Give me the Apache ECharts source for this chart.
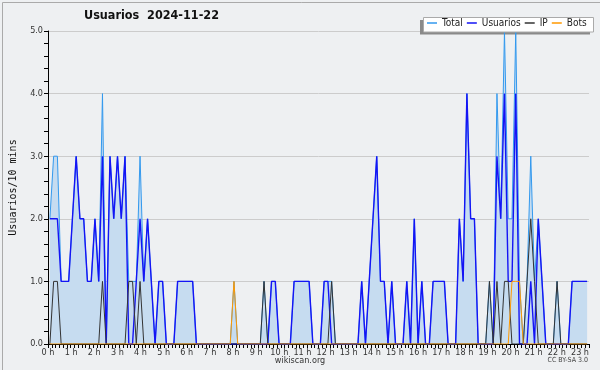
<!DOCTYPE html>
<html>
<head>
<meta charset="utf-8">
<script src="https://cdn.jsdelivr.net/npm/echarts@6/dist/echarts.min.js"></script>
<style>
html,body{margin:0;padding:0;background:#eef0f2;}
#chart{width:600px;height:370px;}
</style>
</head>
<body>
<div id="chart"></div>
<script>
// hour tick labels
var hourLabels = ['0 h','1 h','2 h','3 h','4 h','5 h','6 h','7 h','8 h','9 h','10 h','11 h',
  '12 h','13 h','14 h','15 h','16 h','17 h','18 h','19 h','20 h','21 h','22 h','23 h'];
var yTickLabels = ['0.0','1.0','2.0','3.0','4.0','5.0'];
var seriesNames = ['Total','Usuarios','IP','Bots'];

// values per 10 minutes (6 per hour)
var total = [
  2,3,3,1,1,1,  2,3,2,2,1,1,  2,1,4,0,3,2,  3,2,3,1,1,1,
  3,1,2,1,0,1,  1,0,0,0,1,1,  1,1,1,0,0,0,  0,0,0,0,0,0,
  0,1,0,0,0,0,  0,0,0,1,0,1,  1,0,0,0,0,1,  1,1,1,1,0,0,
  0,1,1,1,0,0,  0,0,0,0,0,1,  0,1,2,3,1,1,  0,1,0,0,0,1,
  0,2,0,1,0,0,  1,1,1,1,0,0,  0,2,1,4,2,2,  0,0,0,1,0,4,
  2,5,2,2,5,1,  0,1,3,1,2,1,  0,0,0,1,0,0,  0,1,1,1,1,1
];
var usuarios = [
  2,2,2,1,1,1,  2,3,2,2,1,1,  2,1,3,0,3,2,  3,2,3,0,0,1,
  2,1,2,1,0,1,  1,0,0,0,1,1,  1,1,1,0,0,0,  0,0,0,0,0,0,
  0,0,0,0,0,0,  0,0,0,0,0,1,  1,0,0,0,0,1,  1,1,1,1,0,0,
  0,1,1,0,0,0,  0,0,0,0,0,1,  0,1,2,3,1,1,  0,1,0,0,0,1,
  0,2,0,1,0,0,  1,1,1,1,0,0,  0,2,1,4,2,2,  0,0,0,0,0,3,
  2,4,1,1,4,0,  0,0,1,0,2,1,  0,0,0,0,0,0,  0,1,1,1,1,1
];
var ip = [
  0,1,1,0,0,0,  0,0,0,0,0,0,  0,0,1,0,0,0,  0,0,0,1,1,0,
  1,0,0,0,0,0,  0,0,0,0,0,0,  0,0,0,0,0,0,  0,0,0,0,0,0,
  0,0,0,0,0,0,  0,0,0,1,0,0,  0,0,0,0,0,0,  0,0,0,0,0,0,
  0,0,0,1,0,0,  0,0,0,0,0,0,  0,0,0,0,0,0,  0,0,0,0,0,0,
  0,0,0,0,0,0,  0,0,0,0,0,0,  0,0,0,0,0,0,  0,0,0,1,0,1,
  0,1,1,0,0,0,  0,1,2,1,0,0,  0,0,0,1,0,0,  0,0,0,0,0,0
];
var bots = [
  0,0,0,0,0,0,  0,0,0,0,0,0,  0,0,0,0,0,0,  0,0,0,0,0,0,
  0,0,0,0,0,0,  0,0,0,0,0,0,  0,0,0,0,0,0,  0,0,0,0,0,0,
  0,1,0,0,0,0,  0,0,0,0,0,0,  0,0,0,0,0,0,  0,0,0,0,0,0,
  0,0,0,0,0,0,  0,0,0,0,0,0,  0,0,0,0,0,0,  0,0,0,0,0,0,
  0,0,0,0,0,0,  0,0,0,0,0,0,  0,0,0,0,0,0,  0,0,0,0,0,0,
  0,0,0,1,1,1,  0,0,0,0,0,0,  0,0,0,0,0,0,  0,0,0,0,0,0
];

var categories = [];
for (var h = 0; h < 24; h++) {
  for (var m = 0; m < 60; m += 10) {
    categories.push(h + ':' + (m < 10 ? '0' : '') + m);
  }
}

var COND = '"DejaVu Sans Condensed", "DejaVu Sans", sans-serif';
var chart = echarts.init(document.getElementById('chart'), null, {renderer: 'canvas'});
chart.setOption({
  animation: false,
  backgroundColor: '#eef0f2',
  title: {
    text: 'Usuarios  2024-11-22',
    left: 84, top: 9,
    padding: 0,
    textStyle: {fontFamily: COND, fontWeight: 'bold', fontSize: 12.5, color: '#111'}
  },
  legend: {
    data: seriesNames,
    left: 427, top: 18,
    padding: 0,
    itemGap: 4,
    itemWidth: 10,
    itemHeight: 1.5,
    icon: 'rect',
    z: 10,
    textStyle: {fontFamily: COND, fontSize: 10, color: '#222'}
  },
  grid: {left: 45, right: 11, top: 31, bottom: 26, containLabel: false},
  xAxis: [{
    type: 'category',
    data: categories,
    boundaryGap: true,
    axisLine: {show: true, lineStyle: {color: '#000', width: 1}},
    axisTick: {show: true, interval: 0, length: 4, lineStyle: {color: '#000'}},
    axisLabel: {show: false},
    splitLine: {show: false}
  }, {
    type: 'value',
    position: 'bottom',
    offset: 0,
    min: 0, max: 23.39, interval: 1,
    axisLine: {show: false},
    axisTick: {show: false},
    splitLine: {show: false},
    axisLabel: {
      show: true, margin: 4, fontSize: 9, color: '#333', fontFamily: COND,
      showMaxLabel: false,
      formatter: function (v) { return Number.isInteger(v) ? hourLabels[v] : ''; }
    }
  }],
  yAxis: {
    type: 'value',
    min: 0, max: 5, interval: 1,
    name: 'Usuarios/10 mins',
    nameLocation: 'middle',
    nameGap: 30,
    nameTextStyle: {fontFamily: '"DejaVu Sans Mono", monospace', fontSize: 10, color: '#111'},
    axisLine: {show: true, lineStyle: {color: '#000', width: 1}},
    axisTick: {show: true, length: 4, lineStyle: {color: '#000'}},
    minorTick: {show: true, splitNumber: 5, length: 4, lineStyle: {color: '#000'}},
    splitLine: {show: true, lineStyle: {color: '#cccccc', width: 1}},
    axisLabel: {
      margin: 5, fontSize: 9, color: '#333', fontFamily: COND,
      formatter: function (v) { return yTickLabels[Math.round(v)]; }
    }
  },
  series: [{
    name: 'Total', type: 'line', data: total, symbol: 'none',
    lineStyle: {color: '#3399ee', width: 1},
    itemStyle: {color: '#3399ee'},
    areaStyle: {color: '#c6dcf0', opacity: 1},
    z: 1
  }, {
    name: 'Usuarios', type: 'line', data: usuarios, symbol: 'none',
    lineStyle: {color: '#1414f5', width: 1.4},
    itemStyle: {color: '#1414f5'},
    z: 2
  }, {
    name: 'IP', type: 'line', data: ip, symbol: 'none',
    lineStyle: {color: '#333333', width: 1},
    itemStyle: {color: '#333333'},
    z: 3
  }, {
    name: 'Bots', type: 'line', data: bots, symbol: 'none',
    lineStyle: {color: '#ff9900', width: 1},
    itemStyle: {color: '#ff9900'},
    z: 4
  }],
  graphic: [{
    type: 'rect', left: 420, top: 20, z: 1, silent: true,
    shape: {width: 170, height: 14.5},
    style: {fill: '#8a8a8a'}
  }, {
    type: 'rect', left: 423, top: 17, z: 2, silent: true,
    shape: {width: 170, height: 14.5},
    style: {fill: '#ffffff', stroke: '#aaaaaa', lineWidth: 1}
  }, {
    type: 'text', left: 'center', top: 356,
    style: {text: 'wikiscan.org', fontFamily: COND, fontSize: 9, fill: '#333'}
  }, {
    type: 'text', right: 12, top: 357,
    style: {text: 'CC BY-SA 3.0', fontFamily: COND, fontSize: 7, fill: '#444'}
  }, {
    type: 'rect', left: 0, top: 0, silent: true,
    shape: {x: 0, y: 0, width: 599, height: 369},
    style: {fill: 'none', stroke: '#aaaaaa', lineWidth: 1}
  }]
});
</script>
</body>
</html>
